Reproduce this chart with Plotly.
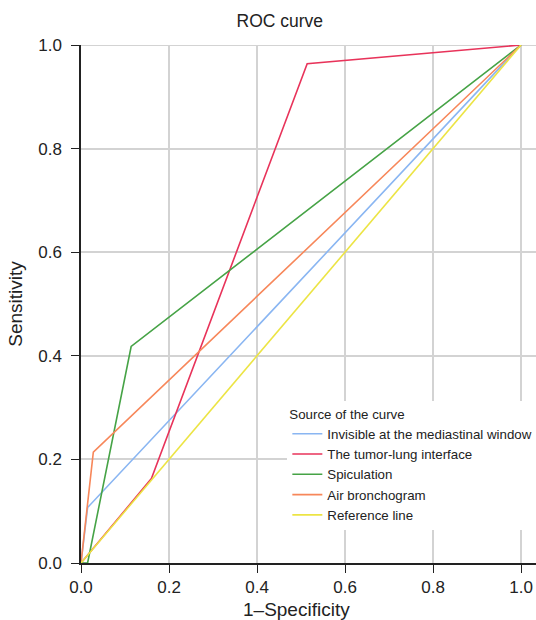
import plotly.graph_objects as go

names = ["Invisible at the mediastinal window", "The tumor-lung interface",
         "Spiculation", "Air bronchogram", "Reference line"]
colors = ["#8ab6f2", "#e8335a", "#46a346", "#f7875a", "#ece444"]

fpr_blue = [0.0, 0.015, 1.0]
tpr_blue = [0.0, 0.107, 1.0]
fpr_red = [0.0, 0.16, 0.514, 1.0]
tpr_red = [0.0, 0.163, 0.964, 1.0]
fpr_green = [0.0, 0.015, 0.114, 1.0]
tpr_green = [0.0, 0.0, 0.418, 1.0]
fpr_orange = [0.0, 0.028, 1.0]
tpr_orange = [0.0, 0.214, 1.0]
fpr_ref = [0.0, 1.0]
tpr_ref = [0.0, 1.0]

xs = [fpr_blue, fpr_red, fpr_green, fpr_orange, fpr_ref]
ys = [tpr_blue, tpr_red, tpr_green, tpr_orange, tpr_ref]

ticks = [0.0, 0.2, 0.4, 0.6, 0.8, 1.0]
tick_text = ["0.0", "0.2", "0.4", "0.6", "0.8", "1.0"]

fig = go.Figure()
for n, c, x, y in zip(names, colors, xs, ys):
    fig.add_trace(go.Scatter(x=x, y=y, mode="lines", name=n,
                             line=dict(color=c, width=1.6)))

font = "Liberation Sans, Arial, sans-serif"
fig.update_layout(
    width=536, height=620,
    margin=dict(l=81, r=0, t=45, b=57, autoexpand=False),
    plot_bgcolor="white", paper_bgcolor="white",
    title=dict(text="ROC curve", x=0.437, xanchor="center", xref="paper",
               y=1 - 21 / 620, yref="container", yanchor="middle", automargin=False,
               font=dict(family=font, size=17.5, color="#222")),
    font=dict(family=font, color="#222"),
    xaxis=dict(range=[0, 1.034], tickvals=ticks, ticktext=tick_text,
               showgrid=True, gridcolor="#d3d3d3", gridwidth=2,
               showline=True, linecolor="#222", linewidth=1.5,
               ticks="outside", ticklen=8, tickcolor="#222",
               zeroline=False, tickfont=dict(size=17), automargin=False,
               ticklabelstandoff=0),
    yaxis=dict(range=[0, 1.0], tickvals=ticks, ticktext=tick_text,
               showgrid=True, gridcolor="#d3d3d3", gridwidth=2,
               showline=True, linecolor="#222", linewidth=1.5,
               ticks="outside", ticklen=8, tickcolor="#222",
               zeroline=False, tickfont=dict(size=17), automargin=False,
               ticklabelstandoff=6,
               title=dict(text="Sensitivity", font=dict(size=19), standoff=11)),
    legend=dict(x=0.4535, y=0.318 - 3 / 518, xanchor="left", yanchor="top",
                bgcolor="white", borderwidth=0,
                title=dict(text="Source of the curve", font=dict(size=13.3)),
                font=dict(size=13.3, color="#222"), tracegroupgap=0,
                itemwidth=30),
    showlegend=True,
    annotations=[dict(text="1\u2013Specificity", xref="paper", yref="paper",
                      x=(296 - 81) / 455, y=-(609 - 563) / 518,
                      xanchor="center", yanchor="middle", showarrow=False,
                      font=dict(size=19, color="#222", family=font))],
)
fig.add_shape(type="line", xref="x", yref="y", x0=0, x1=1.034, y0=1, y1=1,
              line=dict(color="#d3d3d3", width=2), layer="below")

fig.write_html("out.html", config={"displayModeBar": False},
               post_script="document.body.style.margin='0px';")
